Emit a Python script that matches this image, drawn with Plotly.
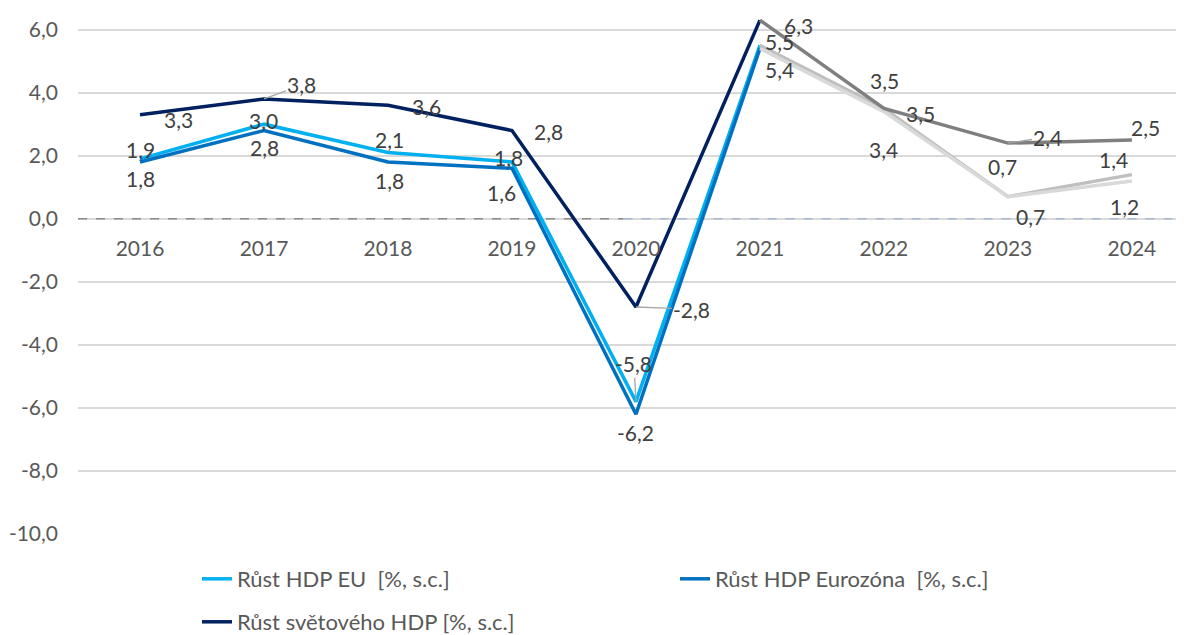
import plotly.graph_objects as go

years = ["2016", "2017", "2018", "2019", "2020", "2021", "2022", "2023", "2024"]
eu = [1.9, 3.0, 2.1, 1.8, -5.8, 5.5, 3.5, 0.7, 1.4]
ez = [1.8, 2.8, 1.8, 1.6, -6.2, 5.4, 3.4, 0.7, 1.2]
world = [3.3, 3.8, 3.6, 2.8, -2.8, 6.3, 3.5, 2.4, 2.5]
names = ["Růst HDP EU  [%, s.c.]", "Růst HDP Eurozóna  [%, s.c.]", "Růst světového HDP [%, s.c.]"]
y_ticks = [6, 4, 2, 0, -2, -4, -6, -8, -10]
y_ticktext = ["6,0", "4,0", "2,0", "0,0", "-2,0", "-4,0", "-6,0", "-8,0", "-10,0"]

split = 5  # index of 2021: history up to here, forecast afterwards

hist_colors = ["#00B0F0", "#0070C0", "#002060"]
fc_colors = ["#BFBFBF", "#D9D9D9", "#7F7F7F"]

# label offsets in screen pixels (dx right, dy down)
off_eu = [(0, -9), (0, -4), (2, -13), (-3, -5), (-2, -38), (20, -4), (1, -28), (-5, -30), (-18, -15)]
off_ez = [(0, 16), (1, 17), (2, 18), (-10, 24), (0, 18), (20, 21), (0, 38), (23, 20), (-7, 26)]
off_w = [(38, 5), (38, -14), (39, 1), (37, 1), (56, 2), (39, 5), (37, 5), (40, -6), (14, -12)]
leaders = {("eu", 4), ("w", 1), ("w", 4), ("w", 7)}

FONT = "Lato"
FS = 21
LFS = 22
Y_RANGE = [-10, 6.4]
W, H = 1176, 627  # page body adds an 8 px offset

fig = go.Figure()

series = [("eu", eu, off_eu), ("ez", ez, off_ez), ("w", world, off_w)]
legends = ["legend", "legend", "legend2"]

for i, (key, vals, _) in enumerate(series):
    fig.add_trace(go.Scatter(
        x=years[:split + 1], y=vals[:split + 1], mode="lines",
        line=dict(color=hist_colors[i], width=3.5),
        name=names[i], legend=legends[i]))

for i, (key, vals, _) in enumerate(series):
    fig.add_trace(go.Scatter(
        x=years[split:], y=vals[split:], mode="lines",
        line=dict(color=fc_colors[i], width=3.5),
        showlegend=False, hoverinfo="skip"))

for key, vals, offs in series:
    for j, v in enumerate(vals):
        dx, dy = offs[j]
        txt = f"{v:.1f}".replace(".", ",")
        # category axis: annotation x is the category's serial index
        if (key, j) in leaders:
            fig.add_annotation(
                x=j, y=v, xref="x", yref="y", text=txt, showarrow=True,
                ax=dx, ay=dy, axref="pixel", ayref="pixel",
                arrowhead=0, arrowwidth=1.3, arrowcolor="#A6A6A6", standoff=0,
                font=dict(size=FS, color="#404040", family=FONT))
        else:
            fig.add_annotation(
                x=j, y=v, xref="x", yref="y", text=txt, showarrow=False,
                xshift=dx, yshift=-dy,
                font=dict(size=FS, color="#404040", family=FONT))

fig.update_layout(
    template="none",
    width=W, height=H,
    margin=dict(l=70, r=0, t=9, b=101, autoexpand=False),
    paper_bgcolor="white", plot_bgcolor="white",
    font=dict(family=FONT, size=FS, color="#595959"),
    xaxis=dict(
        type="category", categoryorder="array", categoryarray=years,
        range=[-0.5, 8.42], showgrid=False, showline=False, automargin=False,
        zeroline=False, anchor="free",
        position=(0 - Y_RANGE[0]) / (Y_RANGE[1] - Y_RANGE[0]),
        ticks="", ticklabelstandoff=15, tickfont=dict(size=FS, color="#595959")),
    yaxis=dict(
        range=Y_RANGE, tickvals=y_ticks, ticktext=y_ticktext, automargin=False,
        showgrid=True, gridcolor="#D9D9D9", gridwidth=1.5, zeroline=False,
        showline=False, ticks="", ticklabelstandoff=19, tickfont=dict(size=FS, color="#595959")),
    legend=dict(orientation="h", x=(197 - 78) / 1106, y=(H - 550) / H, yref="container",
                xanchor="left", yanchor="top", entrywidth=433,
                font=dict(size=LFS, color="#595959"), bgcolor="rgba(0,0,0,0)"),
    legend2=dict(orientation="h", x=(197 - 78) / 1106, y=(H - 593) / H, yref="container",
                 xanchor="left", yanchor="top",
                 font=dict(size=LFS, color="#595959"), bgcolor="rgba(0,0,0,0)"),
    showlegend=True,
    shapes=[
        dict(type="line", xref="x", yref="y", x0=-0.5, x1=3.9, y0=0, y1=0,
             line=dict(color="#8C8C8C", width=1.5, dash="dash"), layer="between"),
        dict(type="line", xref="x", yref="y", x0=3.9, x1=8.42, y0=0, y1=0,
             line=dict(color="#A9B9CF", width=1.5, dash="dash"), layer="between"),
    ],
)

fig.write_html("out.html")
